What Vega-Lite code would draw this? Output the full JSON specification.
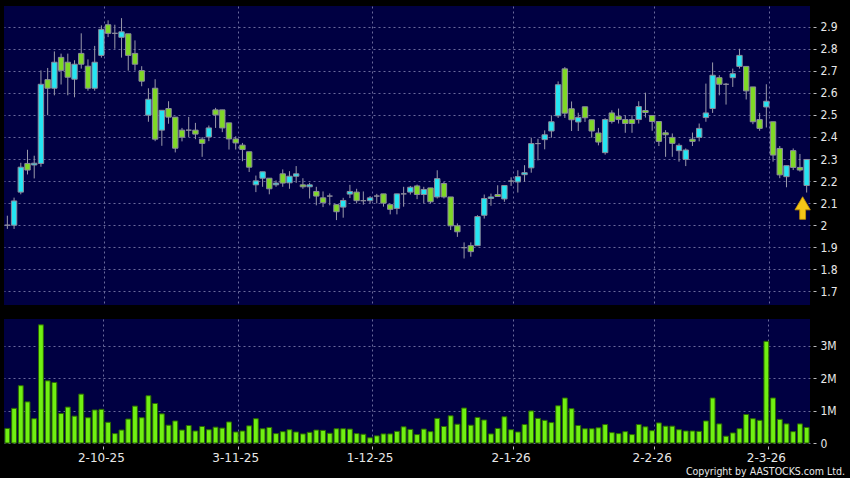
{
  "$schema": "https://vega.github.io/schema/vega-lite/v6.json",
  "background": "#000000",
  "padding": {"left": 4, "top": 6, "right": 30, "bottom": 10},
  "spacing": 14,
  "config": {
    "view": {"fill": "#000042", "stroke": null},
    "font": "DejaVu Sans",
    "axis": {
      "labelColor": "#e8e8e8",
      "labelFont": "DejaVu Sans Condensed",
      "labelFontSize": 12,
      "labelOverlap": false,
      "tickColor": "#bbbbbb",
      "domain": false,
      "gridColor": "#6a6a9c",
      "gridDash": [2, 3],
      "gridWidth": 1,
      "title": null
    }
  },
  "datasets": {
    "k": [
      {"d":"2025-09-11","o":2.0,"h":2.043,"l":1.983,"c":2.0,"v":450000},
      {"d":"2025-09-12","o":2.0,"h":2.125,"l":1.983,"c":2.11,"v":1070000},
      {"d":"2025-09-15","o":2.15,"h":2.283,"l":2.14,"c":2.263,"v":1770000},
      {"d":"2025-09-16","o":2.28,"h":2.342,"l":2.23,"c":2.25,"v":1270000},
      {"d":"2025-09-17","o":2.273,"h":2.315,"l":2.212,"c":2.281,"v":750000},
      {"d":"2025-09-18","o":2.28,"h":2.702,"l":2.265,"c":2.639,"v":3650000},
      {"d":"2025-09-19","o":2.66,"h":2.713,"l":2.499,"c":2.621,"v":1920000},
      {"d":"2025-09-22","o":2.621,"h":2.788,"l":2.589,"c":2.739,"v":1870000},
      {"d":"2025-09-23","o":2.761,"h":2.778,"l":2.638,"c":2.702,"v":910000},
      {"d":"2025-09-24","o":2.739,"h":2.778,"l":2.589,"c":2.671,"v":1110000},
      {"d":"2025-09-25","o":2.662,"h":2.748,"l":2.58,"c":2.73,"v":830000},
      {"d":"2025-09-26","o":2.779,"h":2.87,"l":2.71,"c":2.73,"v":1510000},
      {"d":"2025-09-29","o":2.721,"h":2.752,"l":2.61,"c":2.621,"v":780000},
      {"d":"2025-09-30","o":2.621,"h":2.813,"l":2.61,"c":2.739,"v":1020000},
      {"d":"2025-10-02","o":2.77,"h":2.906,"l":2.76,"c":2.888,"v":1040000},
      {"d":"2025-10-03","o":2.909,"h":2.929,"l":2.853,"c":2.87,"v":640000},
      {"d":"2025-10-06","o":2.87,"h":2.909,"l":2.8,"c":2.87,"v":290000},
      {"d":"2025-10-08","o":2.852,"h":2.939,"l":2.76,"c":2.877,"v":400000},
      {"d":"2025-10-09","o":2.868,"h":2.868,"l":2.701,"c":2.77,"v":740000},
      {"d":"2025-10-10","o":2.779,"h":2.838,"l":2.701,"c":2.73,"v":1140000},
      {"d":"2025-10-13","o":2.701,"h":2.721,"l":2.63,"c":2.653,"v":780000},
      {"d":"2025-10-14","o":2.499,"h":2.621,"l":2.469,"c":2.571,"v":1460000},
      {"d":"2025-10-15","o":2.621,"h":2.662,"l":2.381,"c":2.39,"v":1220000},
      {"d":"2025-10-16","o":2.431,"h":2.521,"l":2.36,"c":2.521,"v":900000},
      {"d":"2025-10-17","o":2.529,"h":2.562,"l":2.46,"c":2.49,"v":550000},
      {"d":"2025-10-20","o":2.49,"h":2.49,"l":2.33,"c":2.349,"v":680000},
      {"d":"2025-10-21","o":2.431,"h":2.441,"l":2.38,"c":2.399,"v":400000},
      {"d":"2025-10-22","o":2.431,"h":2.491,"l":2.4,"c":2.431,"v":540000},
      {"d":"2025-10-23","o":2.431,"h":2.464,"l":2.39,"c":2.413,"v":370000},
      {"d":"2025-10-24","o":2.39,"h":2.4,"l":2.31,"c":2.371,"v":510000},
      {"d":"2025-10-27","o":2.4,"h":2.452,"l":2.381,"c":2.441,"v":410000},
      {"d":"2025-10-28","o":2.523,"h":2.532,"l":2.441,"c":2.5,"v":490000},
      {"d":"2025-10-30","o":2.523,"h":2.523,"l":2.422,"c":2.441,"v":460000},
      {"d":"2025-10-31","o":2.464,"h":2.464,"l":2.343,"c":2.391,"v":650000},
      {"d":"2025-11-03","o":2.391,"h":2.403,"l":2.343,"c":2.373,"v":340000},
      {"d":"2025-11-04","o":2.363,"h":2.373,"l":2.29,"c":2.343,"v":370000},
      {"d":"2025-11-05","o":2.333,"h":2.333,"l":2.241,"c":2.263,"v":530000},
      {"d":"2025-11-06","o":2.183,"h":2.225,"l":2.15,"c":2.201,"v":750000},
      {"d":"2025-11-07","o":2.213,"h":2.242,"l":2.174,"c":2.242,"v":440000},
      {"d":"2025-11-10","o":2.213,"h":2.213,"l":2.14,"c":2.165,"v":480000},
      {"d":"2025-11-11","o":2.183,"h":2.203,"l":2.174,"c":2.191,"v":290000},
      {"d":"2025-11-12","o":2.233,"h":2.253,"l":2.174,"c":2.191,"v":350000},
      {"d":"2025-11-13","o":2.192,"h":2.245,"l":2.165,"c":2.222,"v":410000},
      {"d":"2025-11-14","o":2.222,"h":2.268,"l":2.192,"c":2.233,"v":340000},
      {"d":"2025-11-17","o":2.183,"h":2.213,"l":2.165,"c":2.174,"v":280000},
      {"d":"2025-11-18","o":2.174,"h":2.192,"l":2.121,"c":2.183,"v":330000},
      {"d":"2025-11-19","o":2.153,"h":2.174,"l":2.09,"c":2.132,"v":400000},
      {"d":"2025-11-20","o":2.124,"h":2.153,"l":2.082,"c":2.102,"v":390000},
      {"d":"2025-11-21","o":2.132,"h":2.144,"l":2.09,"c":2.132,"v":300000},
      {"d":"2025-11-24","o":2.093,"h":2.093,"l":2.023,"c":2.061,"v":440000},
      {"d":"2025-11-25","o":2.082,"h":2.124,"l":2.034,"c":2.112,"v":440000},
      {"d":"2025-11-26","o":2.141,"h":2.183,"l":2.123,"c":2.153,"v":430000},
      {"d":"2025-11-27","o":2.15,"h":2.165,"l":2.099,"c":2.111,"v":290000},
      {"d":"2025-11-28","o":2.111,"h":2.153,"l":2.093,"c":2.111,"v":270000},
      {"d":"2025-12-01","o":2.111,"h":2.132,"l":2.099,"c":2.124,"v":160000},
      {"d":"2025-12-02","o":2.132,"h":2.142,"l":2.099,"c":2.132,"v":220000},
      {"d":"2025-12-03","o":2.142,"h":2.142,"l":2.084,"c":2.1,"v":280000},
      {"d":"2025-12-04","o":2.093,"h":2.093,"l":2.049,"c":2.072,"v":280000},
      {"d":"2025-12-05","o":2.076,"h":2.142,"l":2.049,"c":2.142,"v":360000},
      {"d":"2025-12-08","o":2.142,"h":2.174,"l":2.084,"c":2.142,"v":500000},
      {"d":"2025-12-09","o":2.15,"h":2.178,"l":2.139,"c":2.172,"v":420000},
      {"d":"2025-12-10","o":2.178,"h":2.184,"l":2.118,"c":2.139,"v":260000},
      {"d":"2025-12-11","o":2.139,"h":2.174,"l":2.098,"c":2.162,"v":430000},
      {"d":"2025-12-12","o":2.169,"h":2.169,"l":2.098,"c":2.106,"v":350000},
      {"d":"2025-12-15","o":2.128,"h":2.249,"l":2.121,"c":2.211,"v":760000},
      {"d":"2025-12-16","o":2.189,"h":2.196,"l":2.121,"c":2.128,"v":510000},
      {"d":"2025-12-17","o":2.128,"h":2.128,"l":1.978,"c":1.997,"v":840000},
      {"d":"2025-12-18","o":1.997,"h":2.008,"l":1.947,"c":1.97,"v":580000},
      {"d":"2025-12-19","o":1.898,"h":1.922,"l":1.849,"c":1.898,"v":1080000},
      {"d":"2025-12-22","o":1.907,"h":1.922,"l":1.857,"c":1.88,"v":550000},
      {"d":"2025-12-23","o":1.907,"h":2.045,"l":1.907,"c":2.039,"v":790000},
      {"d":"2025-12-24","o":2.045,"h":2.139,"l":2.03,"c":2.121,"v":710000},
      {"d":"2025-12-29","o":2.121,"h":2.143,"l":2.088,"c":2.128,"v":280000},
      {"d":"2025-12-30","o":2.139,"h":2.181,"l":2.13,"c":2.13,"v":450000},
      {"d":"2025-12-31","o":2.119,"h":2.18,"l":2.106,"c":2.18,"v":810000},
      {"d":"2026-01-02","o":2.2,"h":2.217,"l":2.178,"c":2.2,"v":410000},
      {"d":"2026-01-05","o":2.196,"h":2.249,"l":2.148,"c":2.22,"v":340000},
      {"d":"2026-01-06","o":2.229,"h":2.272,"l":2.196,"c":2.238,"v":570000},
      {"d":"2026-01-07","o":2.26,"h":2.397,"l":2.238,"c":2.37,"v":990000},
      {"d":"2026-01-08","o":2.37,"h":2.392,"l":2.294,"c":2.37,"v":760000},
      {"d":"2026-01-09","o":2.388,"h":2.43,"l":2.344,"c":2.41,"v":700000},
      {"d":"2026-01-12","o":2.427,"h":2.498,"l":2.397,"c":2.469,"v":630000},
      {"d":"2026-01-13","o":2.496,"h":2.652,"l":2.486,"c":2.637,"v":1150000},
      {"d":"2026-01-14","o":2.709,"h":2.717,"l":2.486,"c":2.508,"v":1390000},
      {"d":"2026-01-15","o":2.528,"h":2.561,"l":2.427,"c":2.478,"v":1060000},
      {"d":"2026-01-16","o":2.468,"h":2.51,"l":2.427,"c":2.489,"v":540000},
      {"d":"2026-01-19","o":2.537,"h":2.537,"l":2.468,"c":2.487,"v":440000},
      {"d":"2026-01-20","o":2.478,"h":2.478,"l":2.397,"c":2.427,"v":440000},
      {"d":"2026-01-21","o":2.418,"h":2.441,"l":2.362,"c":2.377,"v":470000},
      {"d":"2026-01-22","o":2.329,"h":2.485,"l":2.32,"c":2.479,"v":570000},
      {"d":"2026-01-23","o":2.509,"h":2.521,"l":2.461,"c":2.47,"v":320000},
      {"d":"2026-01-26","o":2.494,"h":2.529,"l":2.461,"c":2.479,"v":290000},
      {"d":"2026-01-27","o":2.479,"h":2.499,"l":2.419,"c":2.461,"v":350000},
      {"d":"2026-01-28","o":2.479,"h":2.499,"l":2.419,"c":2.461,"v":260000},
      {"d":"2026-01-29","o":2.479,"h":2.562,"l":2.461,"c":2.538,"v":570000},
      {"d":"2026-01-30","o":2.52,"h":2.601,"l":2.488,"c":2.511,"v":500000},
      {"d":"2026-02-02","o":2.497,"h":2.497,"l":2.428,"c":2.47,"v":380000},
      {"d":"2026-02-03","o":2.47,"h":2.47,"l":2.359,"c":2.38,"v":620000},
      {"d":"2026-02-04","o":2.419,"h":2.431,"l":2.31,"c":2.41,"v":520000},
      {"d":"2026-02-05","o":2.398,"h":2.416,"l":2.31,"c":2.371,"v":520000},
      {"d":"2026-02-06","o":2.338,"h":2.371,"l":2.288,"c":2.362,"v":410000},
      {"d":"2026-02-09","o":2.298,"h":2.348,"l":2.268,"c":2.341,"v":370000},
      {"d":"2026-02-10","o":2.39,"h":2.42,"l":2.359,"c":2.38,"v":370000},
      {"d":"2026-02-11","o":2.398,"h":2.461,"l":2.38,"c":2.439,"v":360000},
      {"d":"2026-02-12","o":2.488,"h":2.642,"l":2.469,"c":2.509,"v":680000},
      {"d":"2026-02-13","o":2.529,"h":2.738,"l":2.509,"c":2.68,"v":1390000},
      {"d":"2026-02-16","o":2.669,"h":2.68,"l":2.589,"c":2.639,"v":590000},
      {"d":"2026-02-20","o":2.639,"h":2.645,"l":2.547,"c":2.639,"v":210000},
      {"d":"2026-02-23","o":2.669,"h":2.71,"l":2.627,"c":2.687,"v":310000},
      {"d":"2026-02-24","o":2.72,"h":2.8,"l":2.71,"c":2.77,"v":440000},
      {"d":"2026-02-25","o":2.72,"h":2.72,"l":2.57,"c":2.609,"v":880000},
      {"d":"2026-02-26","o":2.627,"h":2.627,"l":2.458,"c":2.469,"v":750000},
      {"d":"2026-02-27","o":2.479,"h":2.509,"l":2.428,"c":2.439,"v":700000},
      {"d":"2026-03-02","o":2.536,"h":2.639,"l":2.443,"c":2.562,"v":3140000},
      {"d":"2026-03-03","o":2.469,"h":2.469,"l":2.288,"c":2.318,"v":1390000},
      {"d":"2026-03-04","o":2.348,"h":2.359,"l":2.213,"c":2.228,"v":730000},
      {"d":"2026-03-05","o":2.22,"h":2.27,"l":2.172,"c":2.27,"v":590000},
      {"d":"2026-03-06","o":2.338,"h":2.348,"l":2.25,"c":2.262,"v":350000},
      {"d":"2026-03-09","o":2.262,"h":2.323,"l":2.243,"c":2.25,"v":590000},
      {"d":"2026-03-10","o":2.18,"h":2.298,"l":2.148,"c":2.298,"v":480000}
    ]
  },
  "vconcat": [
    {
      "width": 806,
      "height": 299,
      "data": {"name": "k"},
      "encoding": {
        "x": {
          "field": "d",
          "type": "ordinal",
          "scale": {"paddingInner": 0.2, "paddingOuter": 0.1},
          "axis": {
            "orient": "bottom",
            "values": ["2025-10-02", "2025-11-03", "2025-12-01", "2026-01-02", "2026-02-02", "2026-03-02"],
            "bandPosition": 1,
            "labels": false,
            "ticks": false,
            "grid": true
          }
        }
      },
      "layer": [
        {
          "mark": {"type": "rule", "color": "#9a9aaa", "strokeWidth": 1},
          "encoding": {
            "y": {
              "field": "l",
              "type": "quantitative",
              "scale": {"domain": [1.638, 2.994], "nice": false, "zero": false},
              "axis": {
                "orient": "right",
                "values": [1.7, 1.8, 1.9, 2.0, 2.1, 2.2, 2.3, 2.4, 2.5, 2.6, 2.7, 2.8, 2.9],
                "tickCount": 13,
                "format": "~g",
                "labelOverlap": false,
                "offset": 3,
                "tickSize": 3,
                "labelPadding": 4,
                "grid": true
              }
            },
            "y2": {"field": "h"}
          }
        },
        {
          "mark": {"type": "bar", "stroke": "#8c8c9c", "strokeWidth": 1},
          "encoding": {
            "y": {"field": "o", "type": "quantitative"},
            "y2": {"field": "c"},
            "fill": {
              "condition": {"test": "datum.c >= datum.o", "value": "#25e5f2"},
              "value": "#7fd826"
            }
          }
        },
        {
          "transform": [{"filter": "datum.d == '2026-03-10'"}],
          "mark": {
            "type": "point",
            "shape": "M-0.26,1L0.26,1L0.26,0.16L0.68,0.16L0,-1L-0.68,0.16L-0.26,0.16Z",
            "filled": true,
            "size": 510,
            "fill": "#f5c518",
            "stroke": "#c89400",
            "strokeWidth": 0.8,
            "opacity": 1,
            "xOffset": -4,
            "yOffset": 15.5
          },
          "encoding": {
            "y": {"field": "l", "type": "quantitative"}
          }
        }
      ]
    },
    {
      "width": 806,
      "height": 124,
      "data": {"name": "k"},
      "title": {
        "text": "Copyright by AASTOCKS.com Ltd.",
        "orient": "bottom",
        "anchor": "end",
        "frame": "group",
        "dx": 35,
        "offset": 4,
        "color": "#e8e8e8",
        "font": "DejaVu Sans Condensed",
        "fontSize": 10.5,
        "fontWeight": "normal"
      },
      "mark": {"type": "bar", "fill": "#70f012", "stroke": "#2c6a00", "strokeWidth": 1},
      "encoding": {
        "x": {
          "field": "d",
          "type": "ordinal",
          "scale": {"paddingInner": 0.28, "paddingOuter": 0.14},
          "axis": {
            "orient": "bottom",
            "values": ["2025-10-02", "2025-11-03", "2025-12-01", "2026-01-02", "2026-02-02", "2026-03-02"],
            "bandPosition": 1,
            "labelExpr": "utcFormat(toDate(datum.value), '%-d-%-m-%y')",
            "labelFont": "DejaVu Sans",
            "labelFontSize": 12,
            "labelAngle": 0,
            "offset": 3,
            "tickSize": 3,
            "labelPadding": 3,
            "grid": true
          }
        },
        "y": {
          "field": "v",
          "type": "quantitative",
          "scale": {"domain": [0, 3830000], "nice": false},
          "axis": {
            "orient": "right",
            "values": [0, 1000000, 2000000, 3000000],
            "labelExpr": "datum.value == 0 ? '0' : (datum.value / 1000000) + 'M'",
            "labelOverlap": false,
            "offset": 3,
            "tickSize": 3,
            "labelPadding": 4,
            "grid": true
          }
        }
      }
    }
  ]
}
